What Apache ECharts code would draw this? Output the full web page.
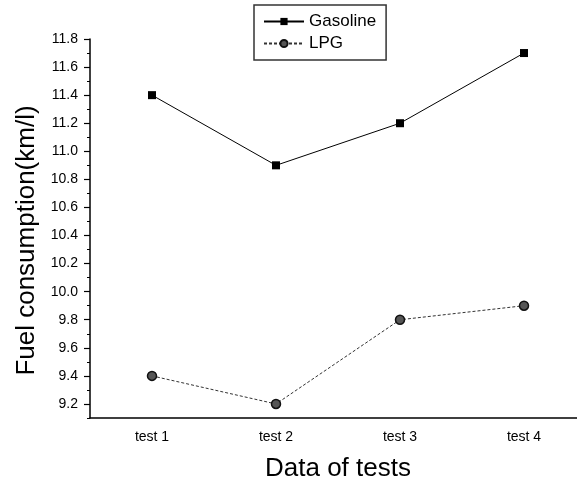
<!DOCTYPE html>
<html>
<head>
<meta charset="utf-8">
<script src="https://cdn.jsdelivr.net/npm/echarts@6/dist/echarts.min.js"></script>
<style>
  html, body { margin: 0; padding: 0; background: #fff; }
  #myChart { width: 577px; height: 483px; }
</style>
</head>
<body>
<div id="myChart"></div>
<script>
var tests = ['test 1', 'test 2', 'test 3', 'test 4'];
var gasoline = [11.4, 10.9, 11.2, 11.7];
var lpg = [9.4, 9.2, 9.8, 9.9];
var yTicks = [9.2, 9.4, 9.6, 9.8, 10.0, 10.2, 10.4, 10.6, 10.8, 11.0, 11.2, 11.4, 11.6, 11.8];

var font = 'Liberation Sans, Arial, sans-serif';
var myChart = echarts.init(document.getElementById('myChart'));

var option = {
  animation: false,
  backgroundColor: '#fff',
  textStyle: { fontFamily: font },
  legend: {
    orient: 'vertical',
    left: 254,
    top: 5,
    padding: [8, 10, 8, 9],
    itemGap: 5,
    itemWidth: 40,
    itemHeight: 9,
    borderColor: '#333',
    borderWidth: 1.5,
    textStyle: { fontSize: 17, color: '#000', fontFamily: font },
    data: ['Gasoline', 'LPG']
  },
  grid: { left: 90, top: 39, width: 496, bottom: 65, outerBoundsMode: 'none', containLabel: false },
  xAxis: [
    {
      type: 'category',
      data: tests,
      name: 'Data of tests',
      nameLocation: 'middle',
      nameGap: 38,
      nameTextStyle: { fontSize: 26, color: '#000', fontFamily: font },
      axisLine: { lineStyle: { color: '#000', width: 1.5 } },
      axisTick: { alignWithLabel: true, length: 6, lineStyle: { color: '#000', width: 1.5 } },
      axisLabel: { color: '#000', fontSize: 14, margin: 12, fontFamily: font }
    },
    {
      type: 'category',
      data: tests,
      position: 'bottom',
      offset: 0,
      axisLine: { show: false },
      axisTick: { length: 4, lineStyle: { color: '#000', width: 1.2 } },
      axisLabel: { show: false }
    }
  ],
  yAxis: [
    {
      type: 'value',
      min: 9.1,
      max: 11.8,
      name: 'Fuel consumption(km/l)',
      nameLocation: 'middle',
      nameGap: 50,
      nameTextStyle: { fontSize: 26, color: '#000', fontFamily: font, padding: [0, 24, 0, 0] },
      splitLine: { show: false },
      axisLine: { show: true, lineStyle: { color: '#000', width: 1.5 } },
      axisTick: { show: true, length: 6, customValues: yTicks, lineStyle: { color: '#000', width: 1.2 } },
      axisLabel: {
        color: '#000', fontSize: 14, margin: 12, fontFamily: font,
        customValues: yTicks,
        formatter: function (v) { return v.toFixed(1); }
      }
    },
    {
      type: 'value',
      min: 9.1,
      max: 11.8,
      interval: 0.1,
      position: 'left',
      offset: 0,
      splitLine: { show: false },
      axisLine: { show: false },
      axisTick: { show: true, length: 3, lineStyle: { color: '#000', width: 1 } },
      axisLabel: { show: false }
    }
  ],
  series: [
    {
      name: 'Gasoline',
      type: 'line',
      data: gasoline,
      symbol: 'rect',
      symbolSize: 8,
      itemStyle: { color: '#000' },
      lineStyle: { color: '#000', width: 1 }
    },
    {
      name: 'LPG',
      type: 'line',
      data: lpg,
      symbol: 'circle',
      symbolSize: 9,
      itemStyle: { color: '#555', borderColor: '#111', borderWidth: 1.5 },
      lineStyle: { color: '#333', width: 1, type: [3, 2] }
    }
  ]
};
myChart.setOption(option);
</script>
</body>
</html>
